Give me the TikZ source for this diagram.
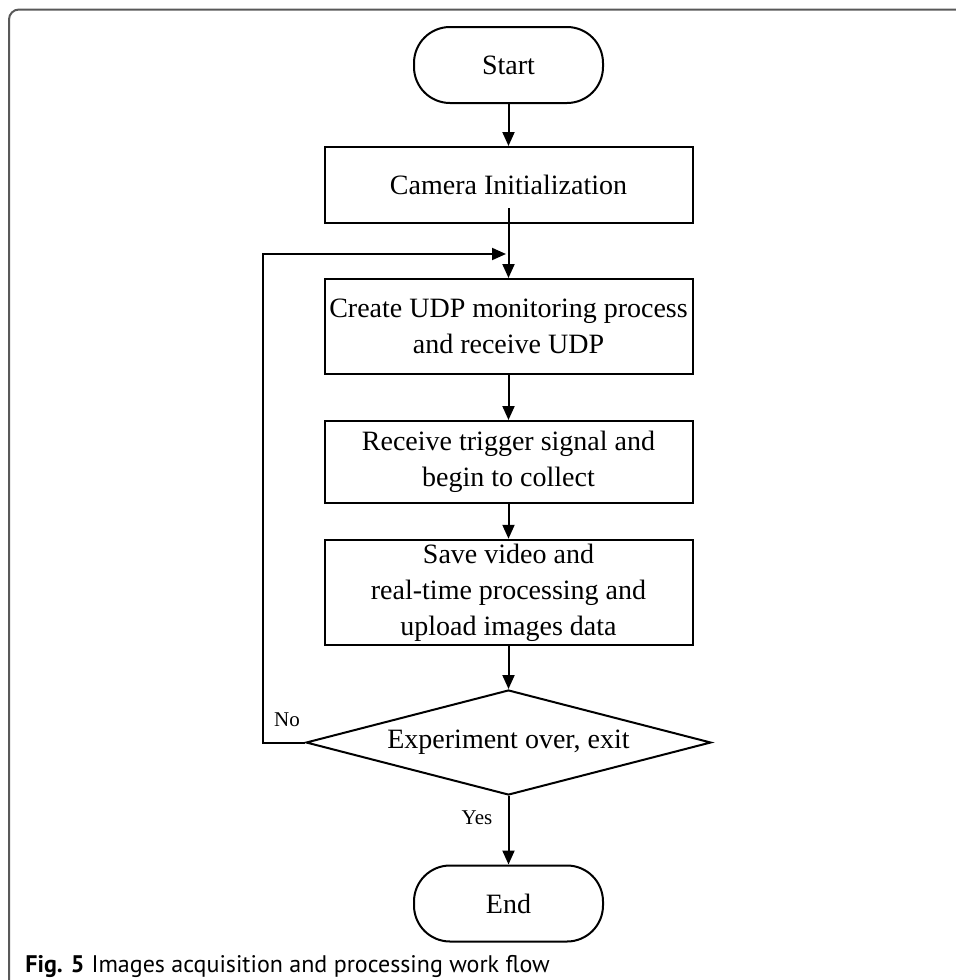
\documentclass[tikz,border=0pt]{standalone}
\usepackage{fontspec}
\setmainfont{Liberation Serif}
\newfontfamily\capfont{PT Sans}
\usetikzlibrary{shapes.geometric,arrows.meta}

\begin{document}
\begin{tikzpicture}[x=0.5pt, y=-0.5pt,
        box/.style={draw=black, line width=1pt, align=center, inner sep=2pt,
            font=\fontsize{14}{18}\selectfont},
        term/.style={box, rounded corners=18pt, minimum width=94.5pt, minimum height=38pt},
        proc/.style={box, minimum width=184pt},
        ask/.style={box, diamond, shape aspect=4, inner sep=0pt,
            minimum width=202.5pt, minimum height=52.5pt},
        flow/.style={line width=1pt, -{Triangle[length=7pt,width=6pt]}},
        lbl/.style={font=\fontsize{10.5}{12}\selectfont}]
    \useasboundingbox (0,0) rectangle (956,980);
    \draw[black!65, line width=1pt, rounded corners=5pt] (956,9.5) -- (9,9.5) -- (9,980);

    \node[term] (start) at (508.5,65) {Start};
    \node[proc, minimum height=38pt] (cam) at (508.5,185) {Camera Initialization};
    \node[proc, minimum height=47.5pt] (udp) at (508.5,326.5)
        {Create UDP monitoring process\\and receive UDP};
    \node[proc, minimum height=41pt] (trig) at (508.5,462)
        {Receive trigger signal and\\begin to collect};
    \node[proc, minimum height=52.5pt] (save) at (508.5,592.5)
        {Save video and\\real-time processing and\\upload images data};
    \node[ask] (over) at (508.5,742.5) {Experiment over, exit};
    \node[term] (end) at (508.5,903.5) {End};
    \coordinate (back) at (506,254);

    \draw[flow] (start) -- (cam);
    \draw[flow] ([yshift=8pt]cam.south) -- (udp);
    \draw[flow] (udp) -- (trig);
    \draw[flow] (trig) -- (save);
    \draw[flow] (save) -- (over);
    \draw[flow] (over) -- (end);
    \draw[flow] (over.west) -- ++(-42,0) |- (back);

    \node[lbl] (no) at (287,720) {No};
    \node[lbl] (yes) at (477,818) {Yes};

    \node[anchor=base west, inner sep=0pt, font=\capfont\fontsize{12}{14}\selectfont] (cap)
        at (25,972) {\textbf{Fig. 5}\hspace{3.5pt}Images acquisition and processing work flow};
\end{tikzpicture}
\end{document}
